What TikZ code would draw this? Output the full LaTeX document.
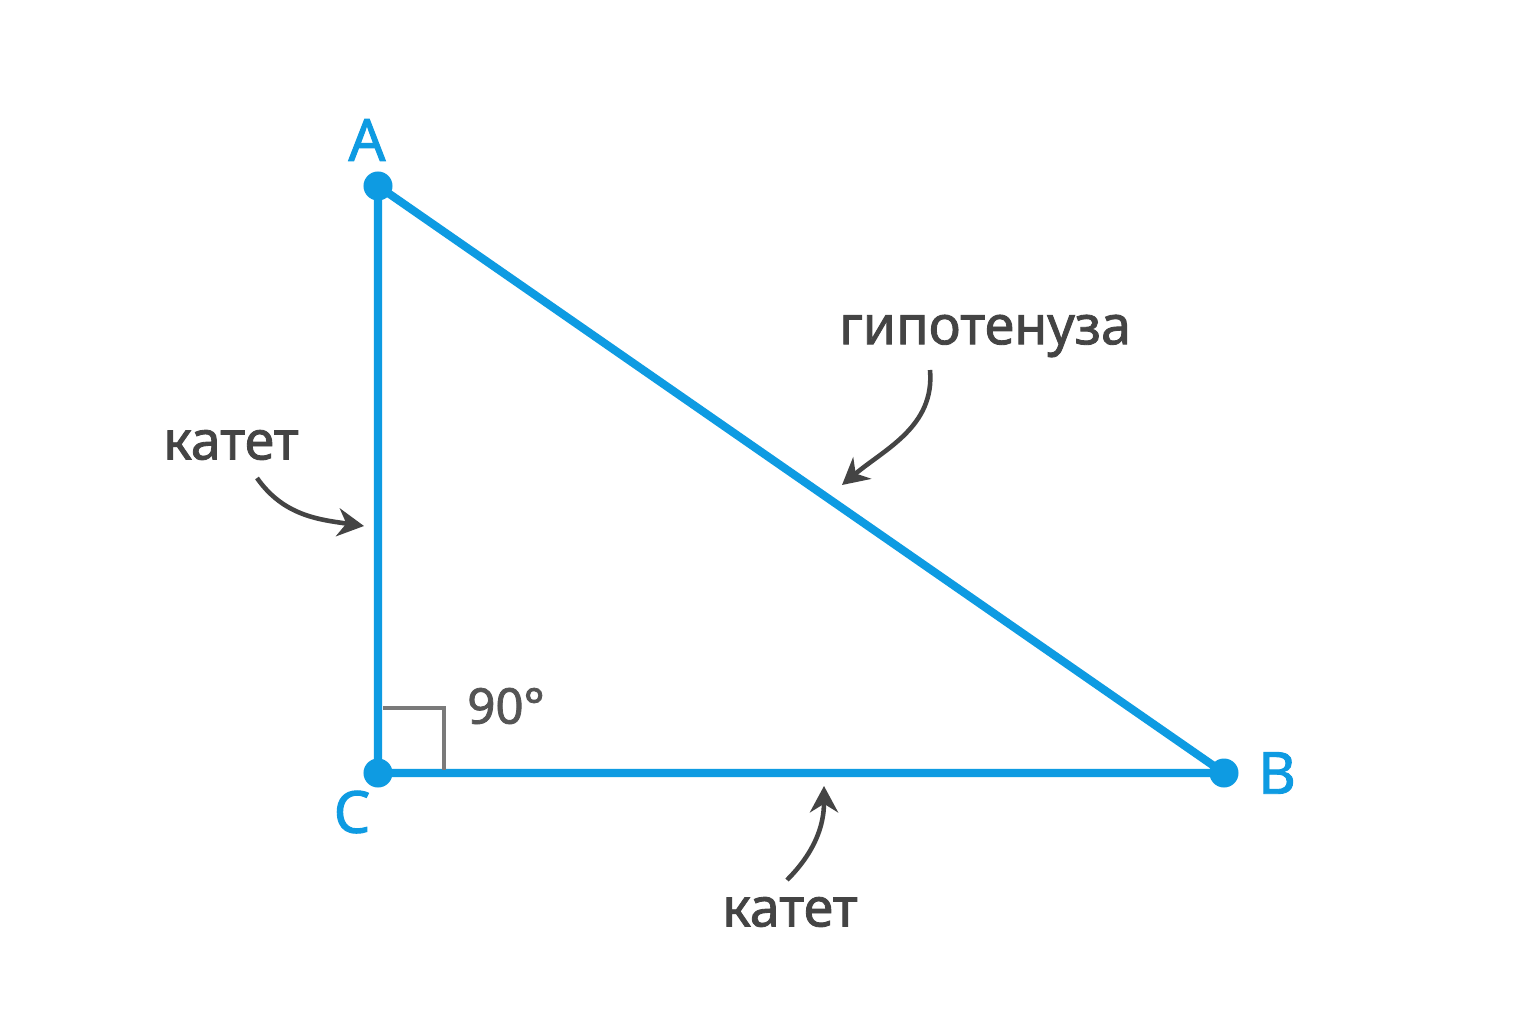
\documentclass[tikz,border=0pt]{standalone}
\usepackage{fontspec}
\setmainfont{Noto Sans}
\newfontfamily\labelfont{Noto Sans}[FakeBold=1.6]
\usetikzlibrary{arrows.meta}
\definecolor{legblue}{HTML}{0E9BE2}
\definecolor{labelgray}{HTML}{444444}
\definecolor{markgray}{HTML}{7A7A7A}
\definecolor{anglegray}{HTML}{555555}
\begin{document}
\begin{tikzpicture}[x=0.01cm,y=-0.01cm,
    side/.style={draw=legblue,line width=2.3pt},
    vertex/.style={circle,fill=legblue,inner sep=0pt,minimum size=0.29cm},
    vname/.style={text=legblue,font=\labelfont\fontsize{16.5}{20}\selectfont},
    legname/.style={text=labelgray,font=\labelfont\fontsize{15.3}{18}\selectfont},
    pointer/.style={draw=labelgray,line width=1.3pt,-{Stealth[length=7.5pt,width=8pt]}}]
                \useasboundingbox[fill=white] (0,0) rectangle (1536,1024);
                \node[vertex] (A) at (378,186) {};
                \node[vertex] (C) at (378,773) {};
                \node[vertex] (B) at (1224,773) {};
                \draw[side] (A.center) -- (C.center) -- (B.center) -- cycle;
                \draw[markgray,line width=0.9pt] (383,708) -- (444,708) -- (444,770);
                \node[vname] (Aname) at (367,140) {A};
                \node[vname] (Cname) at (352,812) {C};
                \node[vname] (Bname) at (1277,773) {B};
                \node[text=anglegray,font=\labelfont\fontsize{14}{17}\selectfont] (right) at (506,706) {90°};
                \node[legname] (legleft) at (231,445) {катет};
                \node[legname] (legbottom) at (790,912) {катет};
                \node[legname] (hyp) at (985,336) {гипотенуза};
                \coordinate (leftend) at (364,526);
                \coordinate (hypend) at (842,485);
                \coordinate (bottomend) at (824,786);
                \draw[pointer] (257,478) to[out=-55,in=172] (leftend);
                \draw[pointer] (930,370) to[out=-85,in=40] (hypend);
                \draw[pointer] (787,880) to[out=45,in=-90] (bottomend);
            \end{tikzpicture}
\end{document}
